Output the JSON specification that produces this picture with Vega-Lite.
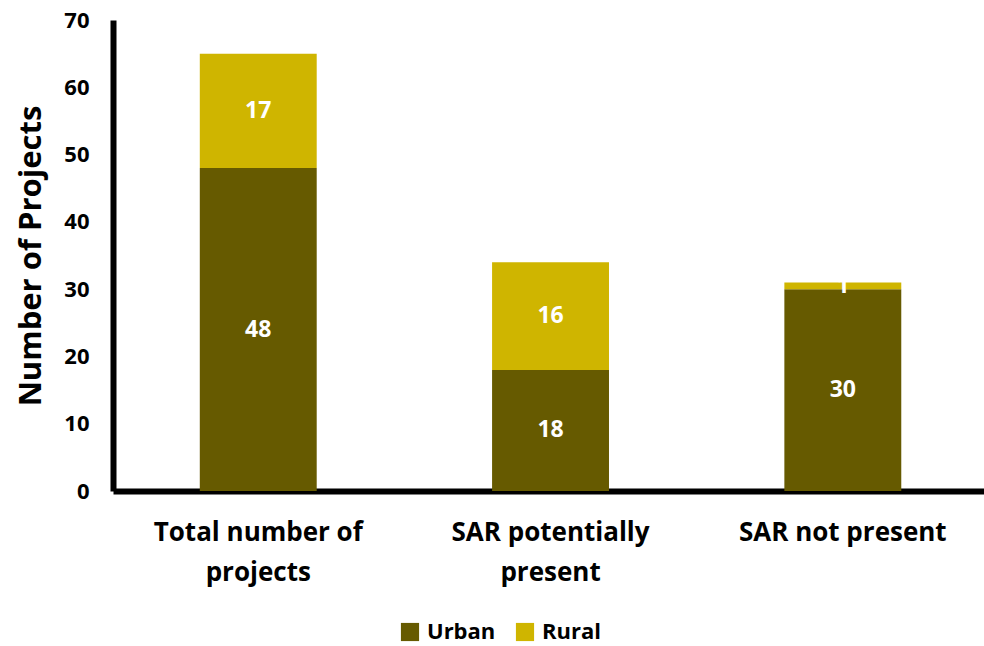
{
  "$schema": "https://vega.github.io/schema/vega-lite/v6.json",
  "autosize": "none",
  "width": 871,
  "height": 471,
  "padding": {"left": 113, "top": 20, "right": 0, "bottom": 155},
  "background": "white",
  "config": {"view": {"stroke": null}, "font": "Open Sans"},
  "data": {"values": [
    {"category": "Total number of projects", "type": "Urban", "value": 48},
    {"category": "Total number of projects", "type": "Rural", "value": 17},
    {"category": "SAR potentially present", "type": "Urban", "value": 18},
    {"category": "SAR potentially present", "type": "Rural", "value": 16},
    {"category": "SAR not present", "type": "Urban", "value": 30},
    {"category": "SAR not present", "type": "Rural", "value": 1}
  ]},
  "transform": [
    {"stack": "value", "groupby": ["category"], "sort": [{"field": "type", "order": "descending"}], "as": ["y0", "y1"]},
    {"calculate": "(datum.y0 + datum.y1) / 2", "as": "mid"}
  ],
  "encoding": {
    "x": {
      "field": "category", "type": "nominal",
      "sort": ["Total number of projects", "SAR potentially present", "SAR not present"],
      "scale": {"paddingInner": 0.6, "paddingOuter": 0.29, "align": 0.512},
      "axis": {
        "title": null, "labelAngle": 0, "labelFontSize": 26, "labelFontWeight": "bold", "labelColor": "black",
        "labelLineHeight": 40, "labelPadding": 28, "ticks": false, "labelLimit": 0,
        "domainColor": "black", "domainWidth": 6,
        "labelExpr": "datum.value == 'Total number of projects' ? ['Total number of', 'projects'] : datum.value == 'SAR potentially present' ? ['SAR potentially', 'present'] : datum.value"
      }
    }
  },
  "layer": [
    {
      "mark": {"type": "bar"},
      "encoding": {
        "y": {"field": "y1", "type": "quantitative",
          "scale": {"domain": [0, 70]},
          "axis": {
            "title": "Number of Projects", "titleFontSize": 31, "titleFontWeight": "bold", "titleColor": "black", "titlePadding": 16,
            "values": [0, 10, 20, 30, 40, 50, 60, 70], "grid": false, "ticks": false,
            "labelFontSize": 22, "labelFontWeight": "bold", "labelColor": "black", "labelPadding": 24,
            "domainColor": "black", "domainWidth": 6
          }
        },
        "y2": {"field": "y0"},
        "color": {
          "field": "type", "type": "nominal",
          "scale": {"domain": ["Urban", "Rural"], "range": ["#665A00", "#CFB500"]},
          "legend": {
            "title": null, "orient": "none", "direction": "horizontal", "legendX": 286, "legendY": 601,
            "symbolType": "square", "symbolSize": 330, "symbolStrokeWidth": 0,
            "labelFontSize": 22, "labelFontWeight": "bold", "labelColor": "black", "columnPadding": 18, "labelOffset": 6
          }
        }
      }
    },
    {
      "mark": {"type": "text", "color": "white", "fontSize": 23, "fontWeight": "bold", "baseline": "middle"},
      "encoding": {
        "y": {"field": "mid", "type": "quantitative"},
        "text": {"field": "value", "type": "quantitative"}
      }
    }
  ]
}
